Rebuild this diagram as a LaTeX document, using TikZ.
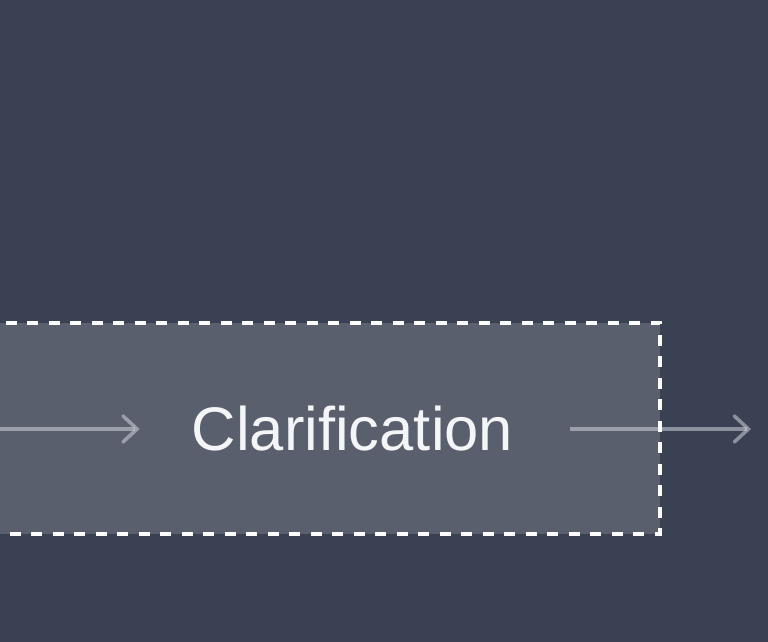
\documentclass[tikz,border=0pt]{standalone}
\usepackage{fontspec}
\setmainfont{Liberation Sans}
\usepackage{xcolor}
\usetikzlibrary{arrows.meta}
\usetikzlibrary{positioning}

\definecolor{bgdark}{HTML}{3A4152}
\definecolor{labelwhite}{HTML}{F4F5F7}
\definecolor{flowgray}{HTML}{D0D4DC}

\begin{document}
\begin{tikzpicture}[
  x=1pt, y=1pt,
  stagebox/.style={fill=white, fill opacity=0.16, draw=none},
  stageborder/.style={draw=white, line width=3.6pt, dash pattern=on 11pt off 10.5pt},
  stagelabel/.style={text=labelwhite, inner sep=0pt,
    font=\fontsize{61.5}{74}\selectfont},
  flow/.style={draw=flowgray, draw opacity=0.55, line width=3.6pt,
    -{Straight Barb[length=14pt, width=26pt, line cap=round]}},
]
  % Background
  \useasboundingbox (0,0) rectangle (768,642);
  \fill[bgdark] (-10,-10) rectangle (778,652);
  \clip (0,0) rectangle (768,642);

  % Stage
  \coordinate (boxsw) at (-20,108);
  \coordinate (boxne) at (660,319);
  \fill[stagebox] (boxsw) rectangle (boxne);

  % Nodes
  \node[stagelabel] (clar) at (352.5,213) {Clarification};
  \coordinate (inflow) at (-10,213);
  \coordinate (outflow) at (751,213);

  % Edges
  \draw[flow] (inflow) -- ([xshift=-52pt]clar.west);
  \draw[flow] ([xshift=57pt]clar.east) -- (outflow);

  % Border
  \draw[stageborder] (boxsw) rectangle (boxne);
\end{tikzpicture}
\end{document}
